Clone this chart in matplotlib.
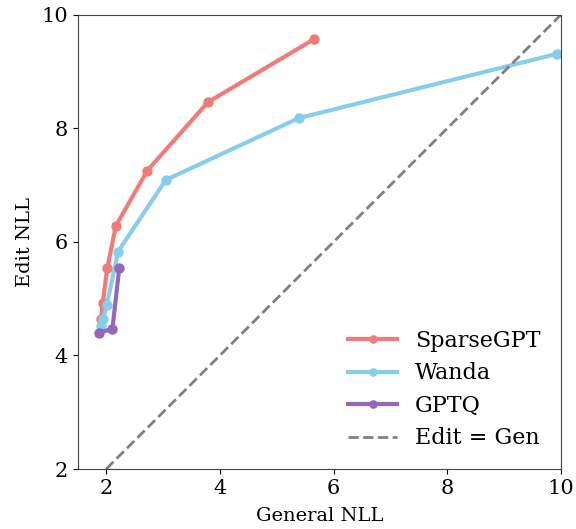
import matplotlib
matplotlib.use('Agg')
import matplotlib.pyplot as plt

sparse_gen = [1.91, 1.94, 2.02, 2.17, 2.72, 3.79, 5.66]
sparse_edit = [4.64, 4.93, 5.54, 6.28, 7.25, 8.46, 9.57]

wanda_gen = [1.91, 1.95, 2.01, 2.21, 3.05, 5.39, 9.93]
wanda_edit = [4.51, 4.65, 4.89, 5.83, 7.09, 8.18, 9.31]

gptq_gen = [1.88, 2.11, 2.23]
gptq_edit = [4.40, 4.47, 5.54]

diag = [2, 10]

fig = plt.figure(figsize=(5.76, 5.29), dpi=100)
ax = fig.add_axes([0.135, 0.1134, 0.839, 0.8588])

ax.plot(sparse_gen, sparse_edit, '-o', color='#F07C7A', lw=3, ms=6.5, label='SparseGPT')
ax.plot(wanda_gen, wanda_edit, '-o', color='#87CEEB', lw=3, ms=6.5, label='Wanda')
ax.plot(gptq_gen, gptq_edit, '-o', color='#9467BD', lw=3, ms=6.5, label='GPTQ')
ax.plot(diag, diag, '--', color='gray', lw=2, label='Edit = Gen')

ax.set_xlim(1.5, 10)
ax.set_ylim(2, 10)
ax.set_xticks([2, 4, 6, 8, 10])
ax.set_yticks([2, 4, 6, 8, 10])
for lbl in ax.get_xticklabels() + ax.get_yticklabels():
    lbl.set_family('DejaVu Serif')
    lbl.set_fontsize(15)
ax.set_xlabel('General NLL', family='DejaVu Serif', fontsize=14, labelpad=6.5)
ax.set_ylabel('Edit NLL', family='DejaVu Serif', fontsize=14, labelpad=5)

for s in ax.spines.values():
    s.set_color('#444444')

leg = ax.legend(loc='lower right', bbox_to_anchor=(0.9855, 0.013), frameon=False,
                handlelength=2.2, prop={'family': 'DejaVu Serif', 'size': 16},
                labelspacing=0.47, markerscale=0.8, borderaxespad=0.22)

fig.savefig('out.png', dpi=100)
